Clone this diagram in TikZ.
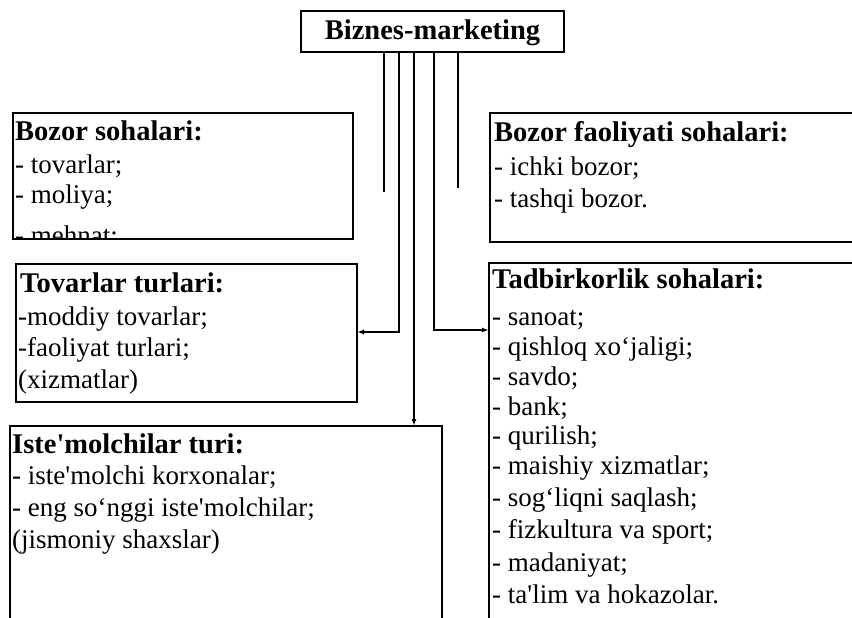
\documentclass[tikz,border=0pt]{standalone}
\usepackage{fontspec}
\setmainfont{Liberation Serif}
\usetikzlibrary{arrows.meta}
\newcommand\aq{\textquotesingle}
\begin{document}
\begin{tikzpicture}[x=1pt,y=-1pt,
  box/.style={draw,line width=1.5pt,rectangle,inner sep=0pt,outer sep=0pt,anchor=north west},
  ttl/.style={anchor=base west,inner sep=0pt,font=\fontsize{28.5}{32}\selectfont\bfseries},
  itm/.style={anchor=base west,inner sep=0pt,font=\fontsize{27}{30}\selectfont},
  conn/.style={line width=1.5pt},
  arr/.style={conn,-{Latex[length=7pt,width=5pt]}}]
\clip (0,0) rectangle (852,618);
% boxes
\node[box,minimum width=263pt,minimum height=41pt] (top) at (301,11) {};
\node[anchor=base,inner sep=0pt,font=\fontsize{28.5}{32}\selectfont\bfseries] (topT) at (432.5,40) {Biznes-marketing};
\node[box,minimum width=340pt,minimum height=126pt] (bs) at (13,113) {};
\node[box,minimum width=420pt,minimum height=129pt] (bf) at (490,113) {};
\node[box,minimum width=341pt,minimum height=138pt] (tov) at (16,264) {};
\node[box,minimum width=432pt,minimum height=230pt] (ist) at (10,426) {};
\node[box,minimum width=420pt,minimum height=380pt] (tad) at (489,263) {};
% Bozor sohalari
\node[ttl] (bs0) at (15,140) {Bozor sohalari:};
\node[itm] (bs1) at (15,173) {- tovarlar;};
\node[itm] (bs2) at (15,203) {- moliya;};
\begin{scope}
\clip (13,113) rectangle (353,239);
\node[itm] (bs3) at (15,244) {- mehnat:};
\end{scope}
% Bozor faoliyati
\node[ttl] (bf0) at (494,141) {Bozor faoliyati sohalari:};
\node[itm] (bf1) at (494,175) {- ichki bozor;};
\node[itm] (bf2) at (494,207) {- tashqi bozor.};
% Tovarlar
\node[ttl] (tv0) at (20,292) {Tovarlar turlari:};
\node[itm] (tv1) at (18,325) {-moddiy tovarlar;};
\node[itm] (tv2) at (18,356) {-faoliyat turlari;};
\node[itm] (tv3) at (18,388) {(xizmatlar)};
% Iste'molchilar
\node[ttl] (is0) at (12,453) {Iste\aq molchilar turi:};
\node[itm] (is1) at (12,484) {- iste\aq molchi korxonalar;};
\node[itm] (is2) at (12,516) {- eng so‘nggi iste\aq molchilar;};
\node[itm] (is3) at (12,548) {(jismoniy shaxslar)};
% Tadbirkorlik
\node[ttl] (td0) at (492,288) {Tadbirkorlik sohalari:};
\node[itm] (td1) at (492,325) {- sanoat;};
\node[itm] (td2) at (492,355) {- qishloq xo‘jaligi;};
\node[itm] (td3) at (492,385) {- savdo;};
\node[itm] (td4) at (492,415) {- bank;};
\node[itm] (td5) at (492,444) {- qurilish;};
\node[itm] (td6) at (492,474) {- maishiy xizmatlar;};
\node[itm] (td7) at (492,506) {- sog‘liqni saqlash;};
\node[itm] (td8) at (492,538) {- fizkultura va sport;};
\node[itm] (td9) at (492,571) {- madaniyat;};
\node[itm] (td10) at (492,603) {- ta\aq lim va hokazolar.};
% connectors
\coordinate (c1) at (384,192);
\coordinate (c2) at (399,332);
\coordinate (c3) at (414,0);
\coordinate (c4) at (434,330);
\coordinate (c5) at (458,188);
\draw[conn] (top.south -| c1) -- (c1);
\draw[conn] (top.south -| c5) -- (c5);
\draw[arr] (top.south -| c2) -- (c2) -- (tov.east |- c2);
\draw[arr] (top.south -| c3) -- (ist.north -| c3);
\draw[arr] (top.south -| c4) -- (c4) -- (tad.west |- c4);
\end{tikzpicture}
\end{document}
